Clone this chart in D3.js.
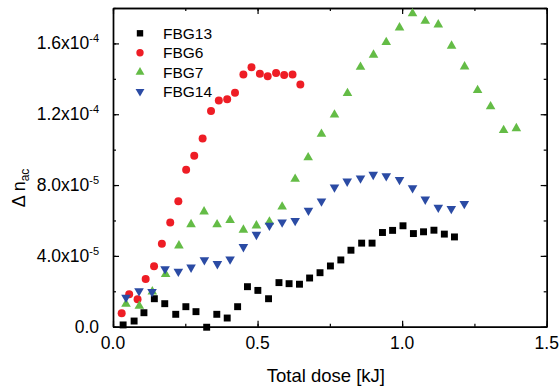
<!DOCTYPE html>
<html>
<head>
<meta charset="utf-8">
<script src="https://cdn.jsdelivr.net/npm/d3@7"></script>
<style>
  body { margin: 0; background: #fff; }
  text { font-family: "Liberation Sans", Arial, sans-serif; }
</style>
</head>
<body>
<div id="chart"></div>
<script>
// Total dose [kJ] and delta n_ac (in units of 1e-5)
const fbg13X = [0.035,0.073,0.107,0.143,0.179,0.217,0.252,0.287,0.324,0.359,0.395,0.431,0.465,0.501,0.538,0.574,0.609,0.645,0.680,0.716,0.752,0.788,0.823,0.860,0.896,0.932,0.967,1.003,1.039,1.074,1.110,1.146,1.181];
const fbg13Y = [0.10,0.32,0.79,1.58,1.30,0.70,1.13,0.85,-0.03,0.70,0.49,1.13,2.26,2.05,1.58,2.49,2.43,2.40,2.75,3.05,3.43,3.77,4.32,4.72,4.72,5.32,5.44,5.70,5.26,5.36,5.45,5.23,5.07];

const fbg6X = [0.030,0.056,0.085,0.113,0.142,0.169,0.198,0.226,0.253,0.281,0.310,0.339,0.366,0.395,0.422,0.451,0.479,0.508,0.535,0.564,0.592,0.621,0.648];
const fbg6Y = [0.76,1.83,1.55,2.70,3.42,4.68,5.88,7.08,8.86,9.65,10.63,12.18,12.77,12.85,13.21,14.25,14.66,14.29,14.15,14.33,14.22,14.25,13.68];

const fbg7X = [0.045,0.091,0.136,0.182,0.228,0.270,0.315,0.360,0.405,0.451,0.496,0.541,0.585,0.630,0.675,0.721,0.766,0.811,0.856,0.901,0.945,0.991,1.036,1.080,1.125,1.171,1.216,1.261,1.306,1.351,1.395];
const fbg7Y = [1.28,1.17,1.98,2.96,4.58,5.78,6.50,5.77,6.01,5.47,5.71,5.93,6.77,8.34,9.56,10.88,11.97,13.18,14.67,15.35,16.06,16.89,17.69,17.27,17.06,15.86,14.69,13.35,12.44,11.09,11.20];

const fbg14X = [0.045,0.090,0.135,0.180,0.226,0.270,0.316,0.361,0.405,0.451,0.496,0.541,0.585,0.630,0.676,0.721,0.766,0.810,0.856,0.900,0.945,0.991,1.036,1.080,1.125,1.170,1.215];
const fbg14Y = [1.65,2.02,1.97,3.26,3.12,3.35,3.77,3.55,3.81,4.51,5.20,5.72,5.90,5.98,6.56,7.09,7.88,8.21,8.39,8.59,8.51,8.30,7.83,7.19,6.73,6.66,6.94];

const seriesNames = ["FBG13", "FBG6", "FBG7", "FBG14"];

const xTicks = [0, 0.5, 1.0, 1.5];
const xTickLabels = ["0.0", "0.5", "1.0", "1.5"];
const yTicks = [0, 4, 8, 12, 16];
const yTickLabels = [["0.0", ""], ["4.0x10", "-5"], ["8.0x10", "-5"], ["1.2x10", "-4"], ["1.6x10", "-4"]];

const series = [
    { name: seriesNames[0], xs: fbg13X, ys: fbg13Y, color: "#000000", shape: d3.symbolSquare, size: 48, rot: 0 },
    { name: seriesNames[1], xs: fbg6X, ys: fbg6Y, color: "#ee1d25", shape: d3.symbolCircle, size: 50, rot: 0 },
    { name: seriesNames[2], xs: fbg7X, ys: fbg7Y, color: "#64bc46", shape: d3.symbolTriangle, size: 40, rot: 0 },
    { name: seriesNames[3], xs: fbg14X, ys: fbg14Y, color: "#2b4ba4", shape: d3.symbolTriangle, size: 40, rot: 180 }
];

const margin = { top: 8, right: 13.3, bottom: 60.3, left: 113 },
    width = 560 - margin.left - margin.right,
    height = 387 - margin.top - margin.bottom;

const svg = d3.select("#chart")
    .append("svg")
    .attr("width", 560)
    .attr("height", 387)
    .append("g")
    .attr("transform", `translate(${margin.left},${margin.top})`);

const x = d3.scaleLinear().domain([0, 1.5]).range([0, width]);
const y = d3.scaleLinear().domain([0, 18]).range([height, 0]);

const minorX = d3.range(0, 1.51, 0.25);
const minorY = d3.range(0, 18.1, 2);

// frame with inward ticks (minor then major)
const sides = [
    [() => d3.axisBottom(x), `translate(0,${height})`, minorX, xTicks],
    [() => d3.axisTop(x), "translate(0,0)", minorX, xTicks],
    [() => d3.axisLeft(y), "translate(0,0)", minorY, yTicks],
    [() => d3.axisRight(y), `translate(${width},0)`, minorY, yTicks]
];
sides.forEach(([mk, tr, minor, major]) => {
    svg.append("g").attr("transform", tr)
        .call(mk().tickValues(minor).tickSizeInner(-3).tickSizeOuter(0).tickFormat(""));
    svg.append("g").attr("transform", tr)
        .call(mk().tickValues(major).tickSizeInner(-6).tickSizeOuter(0).tickFormat(""));
});
svg.selectAll(".domain").attr("stroke", "#000").attr("stroke-width", 1.4);
svg.selectAll(".tick line").attr("stroke", "#000").attr("stroke-width", 1.2);

// tick labels
svg.selectAll(".xlab")
    .data(xTicks)
    .enter().append("text")
    .attr("x", d => x(d))
    .attr("y", height + 22)
    .attr("text-anchor", "middle")
    .attr("font-size", "17.5px")
    .text((d, i) => xTickLabels[i]);

const yl = svg.selectAll(".ylab")
    .data(yTicks)
    .enter().append("text")
    .attr("x", -14)
    .attr("y", d => y(d) + 6)
    .attr("text-anchor", "end")
    .attr("font-size", "17.5px");
yl.append("tspan").text((d, i) => yTickLabels[i][0]);
yl.append("tspan")
    .attr("dy", -7)
    .attr("font-size", "11px")
    .text((d, i) => yTickLabels[i][1]);

// axis titles
svg.append("text")
    .attr("x", width / 2 - 4)
    .attr("y", height + 55)
    .attr("text-anchor", "middle")
    .attr("font-size", "18.5px")
    .text("Total dose [kJ]");

const yt = svg.append("text")
    .attr("transform", `translate(${-88},${180}) rotate(-90)`)
    .attr("text-anchor", "middle")
    .attr("font-size", "18px");
yt.append("tspan").text("\u0394 n");
yt.append("tspan").attr("dy", 4).attr("font-size", "12px").text("ac");

// points
series.forEach(s => {
    const sym = d3.symbol().type(s.shape).size(s.size);
    svg.append("g")
        .selectAll("path")
        .data(s.xs.map((v, i) => ({ x: v, y: s.ys[i] })))
        .enter().append("path")
        .attr("d", sym)
        .attr("fill", s.color)
        .attr("transform", d => `translate(${x(d.x)},${y(d.y)}) rotate(${s.rot})`);
});

// legend
const legend = svg.append("g").attr("transform", "translate(27,25.3)");
series.forEach((s, i) => {
    const g = legend.append("g").attr("transform", `translate(0,${i * 19.4})`);
    g.append("path")
        .attr("d", d3.symbol().type(s.shape).size(s.size * 0.85))
        .attr("fill", s.color)
        .attr("transform", `rotate(${s.rot})`);
    g.append("text")
        .attr("x", 23)
        .attr("y", 5.5)
        .attr("font-size", "15.5px")
        .text(s.name);
});
</script>
</body>
</html>
